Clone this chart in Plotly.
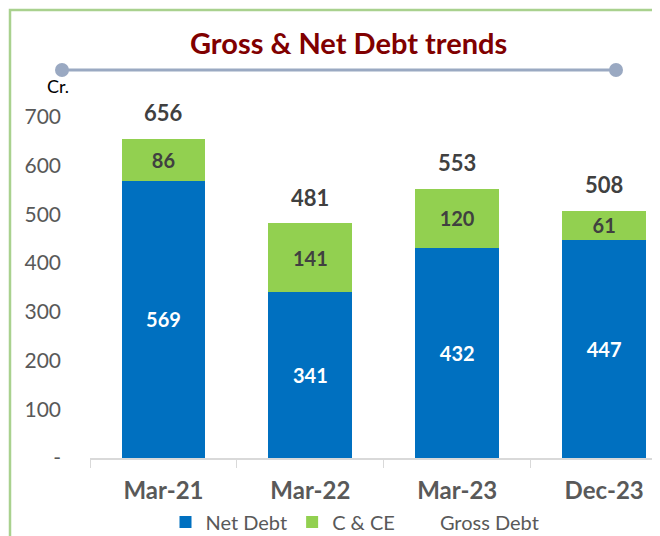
import plotly.graph_objects as go

# data
periods = ["Mar-21", "Mar-22", "Mar-23", "Dec-23"]
net_debt = [569, 341, 432, 447]
cash_ce = [86, 141, 120, 61]
gross_debt = [656, 481, 553, 508]

y_ticks = [0, 100, 200, 300, 400, 500, 600, 700]
y_tick_text = ["-" if v == 0 else str(v) for v in y_ticks]

# the page body adds an 8px margin, so the figure is drawn 8px smaller
OFF = 8
W, H = 660 - OFF, 536 - OFF
L, R, T, B = 90 - OFF, 0, 117 - OFF, 78  # plot area in px


def px_x(p):
    # p: x pixel in the screenshot
    return (p - OFF - L) / (W - L - R)


def px_y(p):
    return (H - B - (p - OFF)) / (H - B - T)


FONT = "Lato, 'Open Sans', sans-serif"
BLUE = "#0070C0"
GREEN = "#92D050"
DARK = "#404040"
GREY = "#595959"

fig = go.Figure()
fig.add_trace(go.Bar(
    x=periods, y=net_debt, name="Net Debt", marker=dict(color=BLUE, line_width=0),
    text=net_debt, textposition="inside", insidetextanchor="middle",
    textangle=0, constraintext="none",
    textfont=dict(color="white", size=20, family=FONT, weight="bold"),
))
fig.add_trace(go.Bar(
    x=periods, y=cash_ce, name="C & CE", marker=dict(color=GREEN, line_width=0),
    text=cash_ce, textposition="inside", insidetextanchor="middle",
    textangle=0, constraintext="none",
    textfont=dict(color=DARK, size=20, family=FONT, weight="bold"),
))
# legend-only entry for gross debt (no marker in the reference)
fig.add_trace(go.Scatter(
    x=[None], y=[None], mode="lines", name="Gross Debt",
    line=dict(color="rgba(0,0,0,0)", width=0),
))

for p, g in zip(periods, gross_debt):
    fig.add_annotation(
        x=p, y=g, text=f"<b>{g}</b>", showarrow=False, yshift=26,
        font=dict(size=22, color=DARK, family=FONT),
    )

# title and decorations
fig.add_annotation(
    xref="paper", yref="paper", x=px_x(348), y=px_y(43), yanchor="middle",
    text="<b>Gross & Net Debt trends</b>", showarrow=False,
    font=dict(size=29, color="#800000", family=FONT),
)
fig.add_annotation(
    xref="paper", yref="paper", x=px_x(45), y=px_y(86), yanchor="middle",
    text="Cr.", showarrow=False, font=dict(size=18, color="black", family=FONT),
)
shapes = [
    dict(type="rect", xref="paper", yref="paper",
         x0=px_x(10), x1=px_x(700), y0=px_y(10), y1=px_y(600),
         line=dict(color="#A9D18E", width=2.5), fillcolor="rgba(0,0,0,0)", layer="below"),
    dict(type="line", xref="paper", yref="paper",
         x0=px_x(62), x1=px_x(616), y0=px_y(70), y1=px_y(70),
         line=dict(color="#9AA9C2", width=3)),
]
for cx in (62, 616):
    shapes.append(dict(
        type="circle", xref="paper", yref="paper", xsizemode="pixel", ysizemode="pixel",
        xanchor=px_x(cx), yanchor=px_y(70), x0=-7, x1=7, y0=-7, y1=7,
        line=dict(color="#9AA9C2", width=0), fillcolor="#9AA9C2",
    ))

fig.update_layout(
    width=W, height=H, barmode="stack", bargap=0.43,
    margin=dict(l=L, r=R, t=T, b=B, pad=0, autoexpand=False),
    paper_bgcolor="white", plot_bgcolor="white",
    font=dict(family=FONT, color=GREY),
    shapes=shapes,
    showlegend=True,
    legend=dict(orientation="h", x=px_x(355), xanchor="center", y=px_y(522), yanchor="middle",
                font=dict(size=20, color=GREY, family=FONT), itemwidth=30,
                traceorder="normal", bgcolor="rgba(0,0,0,0)"),
    xaxis=dict(
        range=[-0.5, 3.38], showgrid=False, showline=True, linecolor="#D9D9D9", linewidth=1.5,
        ticks="outside", tickson="boundaries", ticklen=8, tickcolor="#D9D9D9",
        tickfont=dict(size=24, color=GREY, family=FONT, weight="bold"),
        ticklabelstandoff=10, automargin=False,
    ),
    yaxis=dict(
        range=[0, 700], tickvals=y_ticks, ticktext=y_tick_text, showgrid=False,
        zeroline=False, showline=False, ticklabelstandoff=28, automargin=False,
        tickfont=dict(size=21, color=GREY, family=FONT),
    ),
)

fig.write_html("out.html")
